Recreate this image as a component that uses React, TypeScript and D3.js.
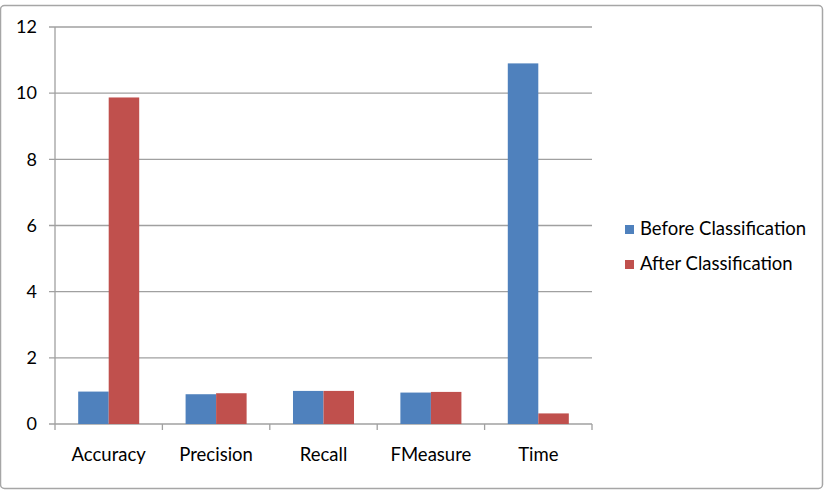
import React from "react";
import * as d3 from "d3";

const categories = ["Accuracy", "Precision", "Recall", "FMeasure", "Time"];
const seriesNames = ["Before Classification", "After Classification"];
const beforeValues = [0.98, 0.9, 1.0, 0.95, 10.9];
const afterValues = [9.87, 0.93, 1.0, 0.97, 0.32];
const yTicks = [0, 2, 4, 6, 8, 10, 12];
const colors = ["#4F81BD", "#C0504D"];

const W = 828;
const H = 494;
const left = 55;
const right = 592;
const top = 27;
const bottom = 424;
const font = "Lato, 'Open Sans', sans-serif";

export default function App() {
  const x = d3.scaleBand<string>().domain(categories).range([left, right]).paddingInner(0).paddingOuter(0);
  const y = d3.scaleLinear().domain([0, 12]).range([bottom, top]);
  const bw = x.bandwidth();
  const barW = bw / 3.52;
  const series = [beforeValues, afterValues];

  return (
    <svg width={W} height={H} style={{ position: "absolute", left: 0, top: 0, background: "#fff" }}>
      <rect x={0.5} y={5.5} width={822} height={483} fill="#fff" stroke="#a6a6a6" strokeWidth={1.5} rx={4} />
      {yTicks.map((t) => (
        <g key={t}>
          <line x1={left - 6} x2={right} y1={y(t)} y2={y(t)} stroke="#a0a0a0" strokeWidth={1.3} />
          <text x={37} y={y(t)} dy="0.35em" textAnchor="end" fontFamily={font} fontSize={18} fill="#000">
            {t}
          </text>
        </g>
      ))}
      <line x1={left} x2={left} y1={top} y2={bottom} stroke="#a0a0a0" strokeWidth={1.3} />
      {categories.map((c, i) =>
        series.map((s, j) => {
          const bx = (x(c) as number) + bw / 2 - barW + j * barW;
          return (
            <rect key={c + j} x={bx} y={y(s[i])} width={barW} height={bottom - y(s[i])} fill={colors[j]} />
          );
        })
      )}
      {[...categories.map((c) => x(c) as number), right].map((px, i) => (
        <line key={i} x1={px} x2={px} y1={bottom} y2={bottom + 6} stroke="#a0a0a0" strokeWidth={1.3} />
      ))}
      {categories.map((c) => (
        <text key={c} x={(x(c) as number) + bw / 2} y={461} textAnchor="middle" fontFamily={font} fontSize={18.5} fill="#000">
          {c}
        </text>
      ))}
      {seriesNames.map((n, j) => (
        <g key={n}>
          <rect x={625} y={225 + j * 35} width={9} height={9} fill={colors[j]} />
          <text x={640} y={234.5 + j * 35} fontFamily={font} fontSize={18.5} fill="#000">
            {n}
          </text>
        </g>
      ))}
    </svg>
  );
}
